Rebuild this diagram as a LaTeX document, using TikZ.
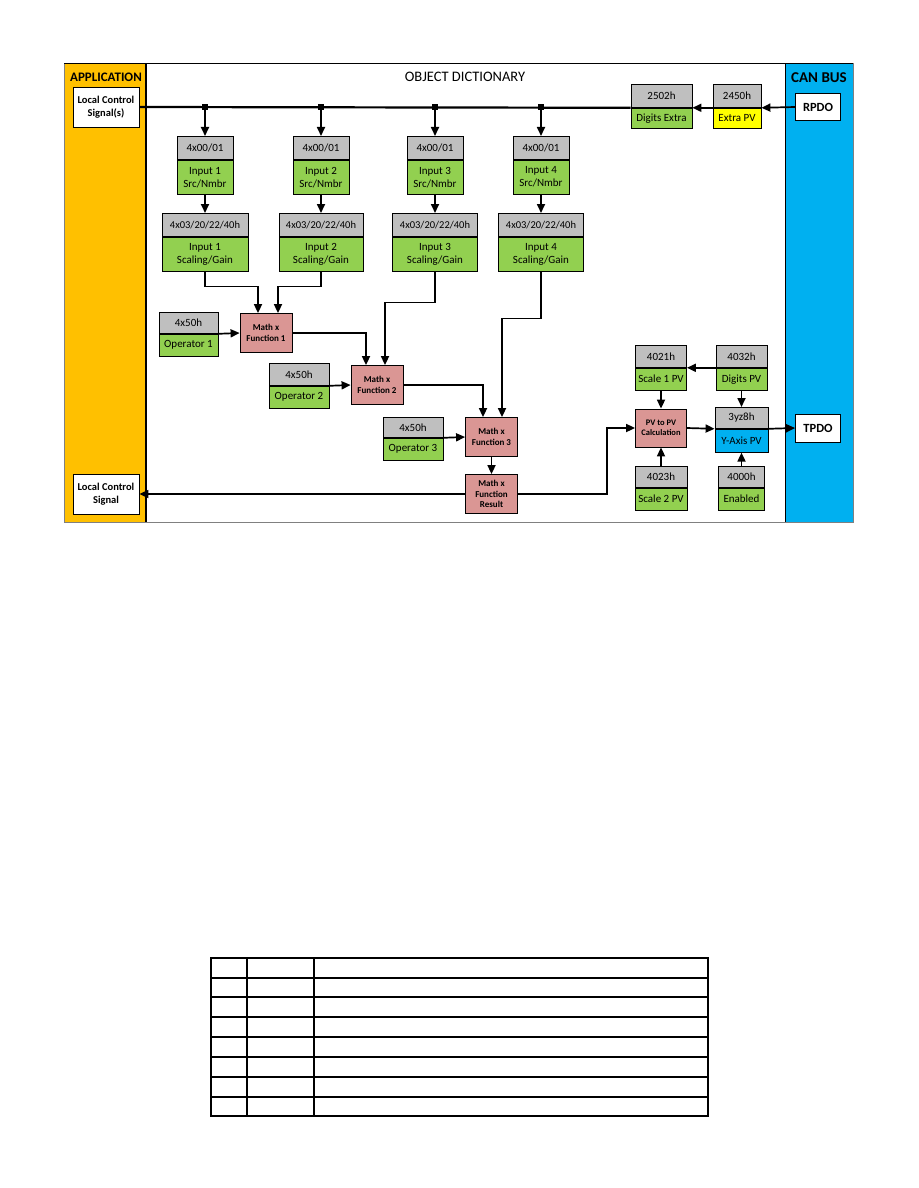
\documentclass[tikz,border=0pt]{standalone}
\usepackage{fontspec}
\setmainfont{Carlito}
\usetikzlibrary{arrows.meta, calc, positioning}
\definecolor{AppY} {HTML}{FFC000}
\definecolor{CanB} {HTML}{00B0F0}
\definecolor{HdrG} {HTML}{BFBFBF}
\definecolor{Grn}  {HTML}{92D050}
\definecolor{Yel}  {HTML}{FFFF00}
\definecolor{Rose} {HTML}{DA9694}
\definecolor{Frm}  {HTML}{808080}
\tikzset{
  hdr/.style args={#1/#2}{
    rectangle, draw=black, fill=HdrG,
    line width=0.8pt, inner sep=0pt,
    minimum width=#1, minimum height=#2,
    font=\fontsize{11}{13}\selectfont,
  },
  body/.style args={#1/#2/#3}{
    rectangle, draw=black, fill=#1,
    line width=0.8pt, inner sep=0pt, align=center,
    minimum width=#2, minimum height=#3,
    font=\fontsize{11}{13}\selectfont,
  },
  mth/.style={
    rectangle, draw=black, fill=Rose,
    line width=0.8pt, inner sep=0pt, align=center,
    minimum width=52, minimum height=39,
    font=\fontsize{9}{10.5}\selectfont\bfseries,
  },
  ext/.style args={#1/#2}{
    rectangle, draw=black, fill=white,
    line width=0.8pt, inner sep=0pt, align=center,
    minimum width=#1, minimum height=#2,
    font=\fontsize{10.5}{12.7}\selectfont\bfseries,
  },
  pdo/.style={ext=45/27, font=\fontsize{12.5}{14}\selectfont\bfseries},
  ttl/.style={font=\fontsize{13}{15}\selectfont\bfseries},
  lng/.style={font=\fontsize{10.5}{12}\selectfont},
  arr/.style={-{Triangle[length=9pt,width=8pt]}, line width=1.7pt},
}

\begin{document}
\begin{tikzpicture}[x=1pt,y=-1pt]
    \useasboundingbox (0,0) rectangle (918,1188);

    % frame and side bands
    \fill[AppY] (64,64) rectangle (146,522);
    \fill[CanB] (785,64) rectangle (853,522);
    \draw[Frm, line width=1pt] (64,64) rectangle (853,522);
    \draw[line width=1pt] (64,64) -- (853,64);
    \draw[line width=1.6pt] (146,64) -- (146,522);
    \draw[line width=0.8pt] (785,64) -- (785,522);

    \node[ttl] (app) at (106,77) {APPLICATION};
    \node[ttl, font=\fontsize{15}{17}\selectfont\bfseries] (can) at (819,78) {CAN BUS};
    \node[font=\fontsize{14.5}{16}\selectfont] (od) at (465,77) {OBJECT DICTIONARY};

    % application / can side
    \node[ext=66/40] (lcs)  at (106,107) {Local Control\\Signal(s)};
    \node[ext=66/40] (lcs2) at (106,494) {Local Control\\Signal};
    \node[pdo] (rpdo) at (818,107) {RPDO};
    \node[pdo, minimum height=28] (tpdo) at (818,428) {TPDO};

    % input columns
    \node[hdr=56/23, anchor=north] (s1h) at (205,136) {4x00/01};
    \node[body=Grn/56/34, anchor=north] (s1) at (s1h.south) {Input 1\\Src/Nmbr};
    \node[hdr=86/23, anchor=north, lng] (g1h) at (205,213) {4x03/20/22/40h};
    \node[body=Grn/86/34, anchor=north] (g1) at (g1h.south) {Input 1\\Scaling/Gain};

    \node[hdr=56/23, anchor=north] (s2h) at (321,136) {4x00/01};
    \node[body=Grn/56/34, anchor=north] (s2) at (s2h.south) {Input 2\\Src/Nmbr};
    \node[hdr=84/23, anchor=north, lng] (g2h) at (321,213) {4x03/20/22/40h};
    \node[body=Grn/84/34, anchor=north] (g2) at (g2h.south) {Input 2\\Scaling/Gain};

    \node[hdr=56/23, anchor=north] (s3h) at (435,136) {4x00/01};
    \node[body=Grn/56/34, anchor=north] (s3) at (s3h.south) {Input 3\\Src/Nmbr};
    \node[hdr=85/23, anchor=north, lng] (g3h) at (435,213) {4x03/20/22/40h};
    \node[body=Grn/85/34, anchor=north] (g3) at (g3h.south) {Input 3\\Scaling/Gain};

    \node[hdr=56/23, anchor=north] (s4h) at (541,136) {4x00/01};
    \node[body=Grn/56/34, anchor=north] (s4) at (s4h.south) {Input 4\\Src/Nmbr};
    \node[hdr=85/23, anchor=north, lng] (g4h) at (541,213) {4x03/20/22/40h};
    \node[body=Grn/85/34, anchor=north] (g4) at (g4h.south) {Input 4\\Scaling/Gain};

    % operators and math blocks
    \node[hdr=59/21, anchor=north] (o1h) at (188.5,312) {4x50h};
    \node[body=Grn/59/22, anchor=north] (o1) at (o1h.south) {Operator 1};
    \node[hdr=60/22, anchor=north] (o2h) at (299,363) {4x50h};
    \node[body=Grn/60/22, anchor=north] (o2) at (o2h.south) {Operator 2};
    \node[hdr=60/20, anchor=north] (o3h) at (413,417) {4x50h};
    \node[body=Grn/60/22, anchor=north] (o3) at (o3h.south) {Operator 3};

    \node[mth] (m1) at (266,333) {Math x\\Function 1};
    \node[mth] (m2) at (377,385) {Math x\\Function 2};
    \node[mth] (m3) at (491.5,437) {Math x\\Function 3};
    \node[mth] (mr) at (491.5,494) {Math x\\Function\\Result};

    % extra pv path
    \node[hdr=61/23, anchor=north] (dxh) at (661.5,84) {2502h};
    \node[body=Grn/61/20, anchor=north] (dx) at (dxh.south) {Digits Extra};
    \node[hdr=48/23, anchor=north] (xph) at (737,84) {2450h};
    \node[body=Yel/48/20, anchor=north] (xp) at (xph.south) {Extra PV};

    % output side
    \node[hdr=51/22, anchor=north] (k1h) at (661,345) {4021h};
    \node[body=Grn/51/22, anchor=north] (k1) at (k1h.south) {Scale 1 PV};
    \node[hdr=51/22, anchor=north] (k2h) at (741.5,345) {4032h};
    \node[body=Grn/51/22, anchor=north] (k2) at (k2h.south) {Digits PV};
    \node[mth, minimum width=51, minimum height=38,
          font=\fontsize{8.5}{10.5}\selectfont\bfseries] (pv) at (661,428) {PV to PV\\Calculation};
    \node[hdr=53/21, anchor=north] (yah) at (741.5,407) {3yz8h};
    \node[body=CanB/53/23, anchor=north] (ya) at (yah.south) {Y-Axis PV};
    \node[hdr=52/21, anchor=north] (k3h) at (661,466) {4023h};
    \node[body=Grn/52/22, anchor=north] (k3) at (k3h.south) {Scale 2 PV};
    \node[hdr=46/21, anchor=north] (enh) at (741.5,466) {4000h};
    \node[body=Grn/46/22, anchor=north] (en) at (enh.south) {Enabled};

    % bus
    \draw[line width=2.2pt] (lcs.east) -- (dxh.south west);
    \coordinate (j1) at (s1h.north |- lcs.east);
    \coordinate (j2) at (s2h.north |- lcs.east);
    \coordinate (j3) at (s3h.north |- lcs.east);
    \coordinate (j4) at (s4h.north |- lcs.east);
    \foreach \j in {j1,j2,j3,j4}
      \fill (\j) +(-2.6,-2.6) rectangle +(2.6,2.6);
    \draw[arr] (j1) -- (s1h.north); \draw[arr] (j2) -- (s2h.north);
    \draw[arr] (j3) -- (s3h.north); \draw[arr] (j4) -- (s4h.north);
    \draw[arr] (s1.south) -- (g1h.north); \draw[arr] (s2.south) -- (g2h.north);
    \draw[arr] (s3.south) -- (g3h.north); \draw[arr] (s4.south) -- (g4h.north);

    % math chain
    \draw[arr] (g1.south) -- ++(0,15) -| ($(m1.north)+(-8,0)$);
    \draw[arr] (g2.south) -- ++(0,15) -| ($(m1.north)+(12,0)$);
    \draw[arr] (m1.east) -| ($(m2.north)+(-11,0)$);
    \draw[arr] (g3.south) -- ++(0,31) -| ($(m2.north)+(8,0)$);
    \draw[arr] (m2.east) -| ($(m3.north)+(-8.5,0)$);
    \draw[arr] (g4.south) -- ++(0,47) -| ($(m3.north)+(10.5,0)$);
    \draw[arr] (o1h.south east) -- (m1.west);
    \draw[arr] (o2h.south east) -- (m2.west);
    \draw[arr] (o3h.south east) -- (m3.west);
    \draw[arr] (m3.south) -- (mr.north);
    \draw[arr] (mr.west) -- (lcs2.east);
    \coordinate (bend) at (607,494);
    \draw[arr] (mr.east) -- (bend) |- (pv.west);

    % right side wiring
    \draw[arr] (rpdo.west) -- (xph.south east);
    \draw[arr] (xph.south west) -- (dxh.south east);
    \draw[arr] (k2h.south west) -- (k1h.south east);
    \draw[arr] (k1.south) -- (pv.north);
    \draw[arr] (k2.south) -- (yah.north);
    \draw[arr] (pv.east) -- (yah.south west);
    \draw[arr] (yah.south east) -- (tpdo.west);
    \draw[arr] (k3h.north) -- (pv.south);
    \draw[arr] (enh.north) -- (ya.south);

    % empty table
    \draw[line width=1.1pt] (211,958) rectangle (708,1116);
    \foreach \r in {978,997,1017,1037,1057,1077,1097}
      \draw[line width=1.1pt] (211,\r) -- (708,\r);
    \draw[line width=1.1pt] (247,958) -- (247,1116);
    \draw[line width=1.1pt] (314,958) -- (314,1116);
  \end{tikzpicture}
\end{document}
